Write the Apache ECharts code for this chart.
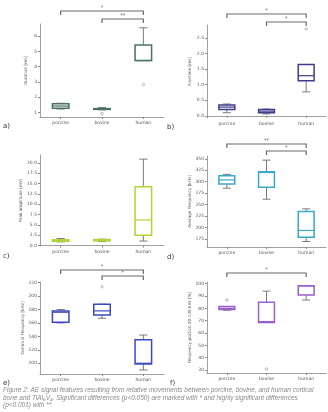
<!DOCTYPE html>
<html><head><meta charset="utf-8">
<script src="https://cdn.jsdelivr.net/npm/echarts@6/dist/echarts.min.js"></script>
<style>html,body{margin:0;padding:0;background:#fff}#c{width:328px;height:412px}</style>
</head><body><div id="c"></div>
<script>
const categories = ['porcine', 'bovine', 'human'];

// box stats: [min, q1, median, q3, max] per category
const durationBox = [[1.22, 1.27, 1.42, 1.57, 1.6], [1.17, 1.2, 1.22, 1.25, 1.32], [4.4, 4.4, 4.4, 5.42, 6.55]];
const durationOut = [[1, 0.93], [2, 2.83]];
const risetimeBox = [[0.1, 0.2, 0.28, 0.35, 0.38], [0.06, 0.1, 0.15, 0.2, 0.22], [0.77, 1.13, 1.29, 1.65, 1.65]];
const risetimeOut = [[2, 2.79]];
const amplitudeBox = [[0.9, 1.05, 1.2, 1.4, 1.7], [1.0, 1.15, 1.3, 1.45, 1.55], [1.1, 2.5, 6.2, 14.2, 20.9]];
const amplitudeOut = [];
const avgFreqBox = [[286, 295, 304, 313, 316], [262, 288, 320, 322, 347], [170, 179, 194, 235, 241]];
const avgFreqOut = [];
const centroidBox = [[160, 161, 176, 178, 180], [167, 172, 178, 188, 188], [90, 99, 100, 135, 142]];
const centroidOut = [[1, 214]];
const portionBox = [[78.5, 79, 80, 81.5, 81.5], [68.5, 68.5, 69.3, 85, 94], [86.8, 90.8, 98.2, 98.4, 98.4]];
const portionOut = [[0, 86.8], [1, 30.8]];

// significance brackets: [fromCategory, toCategory, level]
const durationBr = [[0, 2, 0], [1, 2, 1]];
const durationStars = ['*', '**'];
const risetimeBr = [[0, 2, 0], [1, 2, 1]];
const risetimeStars = ['*', '*'];
const avgFreqBr = [[0, 2, 0], [1, 2, 1]];
const avgFreqStars = ['**', '*'];
const centroidBr = [[0, 2, 0], [1, 2, 1]];
const centroidStars = ['*', '*'];
const portionBr = [[0, 2, 0]];
const portionStars = ['*'];

// y tick labels
const durationTicks = [1, 2, 3, 4, 5, 6];
const risetimeTicks = [0, 0.5, 1.0, 1.5, 2.0, 2.5];
const amplitudeTicks = [0, 2.5, 5, 7.5, 10, 12.5, 15, 17.5, 20];
const avgFreqTicks = [175, 200, 225, 250, 275, 300, 325, 350];
const centroidTicks = [100, 120, 140, 160, 180, 200, 220];
const portionTicks = [30, 40, 50, 60, 70, 80, 90, 100];

const FONT = 'DejaVu Sans';
const panels = [
  {grid: {left: 40, top: 24, width: 124, height: 93}, min: 0.7, max: 6.8, ticks: durationTicks, dec: 0, name: 'Duration [ms]', box: durationBox, out: durationOut, br: durationBr, stars: durationStars, color: '#4a7264', gap: 12, offs: [13, 5]},
  {grid: {left: 207, top: 25, width: 119, height: 93}, min: -0.07, max: 2.92, ticks: risetimeTicks, dec: 1, name: 'Risetime [ms]', box: risetimeBox, out: risetimeOut, br: risetimeBr, stars: risetimeStars, color: '#3d3d8a', gap: 15, offs: [11, 3]},
  {grid: {left: 40, top: 155, width: 124, height: 91}, min: -0.1, max: 21.9, ticks: amplitudeTicks, dec: 1, name: 'Peak amplitude [mV]', box: amplitudeBox, out: amplitudeOut, br: [], stars: [], color: '#afd635', gap: 15, offs: [12, 5]},
  {grid: {left: 207, top: 156, width: 119, height: 91}, min: 158, max: 356, ticks: avgFreqTicks, dec: 0, name: 'Average Frequency [kHz]', box: avgFreqBox, out: avgFreqOut, br: avgFreqBr, stars: avgFreqStars, color: '#38a8cc', gap: 15, offs: [12, 5]},
  {grid: {left: 40, top: 282, width: 124, height: 92}, min: 84, max: 221, ticks: centroidTicks, dec: 0, name: 'Centroid Frequency [kHz]', box: centroidBox, out: centroidOut, br: centroidBr, stars: centroidStars, color: '#3c48c2', gap: 15, offs: [12, 6]},
  {grid: {left: 207, top: 282, width: 119, height: 91}, min: 27.6, max: 101.4, ticks: portionTicks, dec: 0, name: 'Frequency portion 20-130 kHz [%]', box: portionBox, out: portionOut, br: portionBr, stars: portionStars, color: '#9b5fcf', gap: 15, offs: [9, 5]}
];

function boxRenderer(color) {
  return function (params, api) {
    const c = api.value(0);
    const p = [1, 2, 3, 4, 5].map(i => api.coord([c, api.value(i)]));
    const band = api.size([1, 0])[0];
    const bw = band * 0.4, cw = bw * 0.5;
    const cx = p[0][0];
    const ws = {stroke: '#7a7a7a', lineWidth: 1};
    return {type: 'group', children: [
      {type: 'line', shape: {x1: cx, y1: p[0][1], x2: cx, y2: p[1][1]}, style: ws},
      {type: 'line', shape: {x1: cx, y1: p[3][1], x2: cx, y2: p[4][1]}, style: ws},
      {type: 'line', shape: {x1: cx - cw / 2, y1: p[0][1], x2: cx + cw / 2, y2: p[0][1]}, style: ws},
      {type: 'line', shape: {x1: cx - cw / 2, y1: p[4][1], x2: cx + cw / 2, y2: p[4][1]}, style: ws},
      {type: 'rect', shape: {x: cx - bw / 2, y: p[3][1], width: bw, height: Math.max(p[1][1] - p[3][1], 0.5)}, style: {fill: '#fff', stroke: color, lineWidth: 1.5}},
      {type: 'line', shape: {x1: cx - bw / 2, y1: p[2][1], x2: cx + bw / 2, y2: p[2][1]}, style: {stroke: color, lineWidth: 1.2}}
    ]};
  };
}

function bracketRenderer(stars, offs) {
  return function (params, api) {
    const cs = params.coordSys;
    const x1 = api.coord([api.value(0), 0])[0];
    const x2 = api.coord([api.value(1), 0])[0];
    const y = cs.y - offs[api.value(2)];
    const st = {stroke: '#6a6a6a', lineWidth: 1.2, fill: null};
    return {type: 'group', children: [
      {type: 'polyline', shape: {points: [[x1, y + 4], [x1, y], [x2, y], [x2, y + 4]]}, style: st},
      {type: 'text', x: (x1 + x2) / 2, y: y - 0.5, style: {text: stars[params.dataIndex], fill: '#555', fontSize: 5, fontFamily: FONT, align: 'center', verticalAlign: 'bottom'}}
    ]};
  };
}

const grid = [], xAxis = [], yAxis = [], series = [];
panels.forEach((P, i) => {
  grid.push(P.grid);
  xAxis.push({type: 'category', gridIndex: i, data: categories, boundaryGap: true,
    axisLine: {lineStyle: {color: '#888', width: 0.8}},
    axisTick: {show: true, alignWithLabel: true, length: 2, lineStyle: {color: '#888'}},
    axisLabel: {fontSize: 4.5, color: '#555', fontFamily: FONT, margin: 3}});
  yAxis.push({type: 'value', gridIndex: i, min: P.min, max: P.max,
    name: P.name, nameLocation: 'middle', nameGap: P.gap, nameRotate: 90,
    nameTextStyle: {fontSize: 4.2, color: '#555', fontFamily: FONT},
    splitLine: {show: false},
    axisLine: {show: true, lineStyle: {color: '#888', width: 0.8}},
    axisTick: {show: true, length: 2, customValues: P.ticks, lineStyle: {color: '#888'}},
    axisLabel: {fontSize: 4.5, color: '#555', fontFamily: FONT, margin: 3, customValues: P.ticks,
      formatter: v => Number(v).toFixed(P.dec)}});
  series.push({type: 'custom', xAxisIndex: i, yAxisIndex: i,
    data: P.box.map((b, k) => [k].concat(b)),
    encode: {x: 0, y: [1, 2, 3, 4, 5]}, renderItem: boxRenderer(P.color), clip: false, silent: true});
  series.push({type: 'scatter', xAxisIndex: i, yAxisIndex: i, data: P.out, symbol: 'circle', symbolSize: 2.5,
    itemStyle: {color: '#fff', borderColor: '#888', borderWidth: 0.7}, silent: true});
  if (P.br.length) {
    series.push({type: 'custom', xAxisIndex: i, yAxisIndex: i, data: P.br,
      encode: {x: [0, 1], y: 2}, renderItem: bracketRenderer(P.stars, P.offs), clip: false, silent: true});
  }
});

const capStyle = {fill: '#8a8a8a', fontSize: 6.5, fontStyle: 'italic', fontFamily: 'Liberation Sans'};
const labStyle = {fill: '#333', fontSize: 7, fontFamily: FONT};
const graphic = [
  {type: 'text', left: 3, top: 123, style: Object.assign({text: 'a)'}, labStyle)},
  {type: 'text', left: 167, top: 124, style: Object.assign({text: 'b)'}, labStyle)},
  {type: 'text', left: 3, top: 253, style: Object.assign({text: 'c)'}, labStyle)},
  {type: 'text', left: 167, top: 254, style: Object.assign({text: 'd)'}, labStyle)},
  {type: 'text', left: 3, top: 380, style: Object.assign({text: 'e)'}, labStyle)},
  {type: 'text', left: 170, top: 380, style: Object.assign({text: 'f)'}, labStyle)},
  {type: 'text', left: 3, top: 387, style: Object.assign({text: 'Figure 2: AE signal features resulting from relative movements between porcine, bovine, and human cortical'}, capStyle)},
  {type: 'text', left: 3, top: 394.5, style: Object.assign({text: 'bone and TiAl\u2086V\u2084. Significant differences (p<0.050) are marked with * and highly significant differences'}, capStyle)},
  {type: 'text', left: 3, top: 402, style: Object.assign({text: '(p<0.001) with **.'}, capStyle)}
];

const chart = echarts.init(document.getElementById('c'), null, {renderer: 'canvas'});
chart.setOption({animation: false, backgroundColor: '#fff', grid, xAxis, yAxis, series, graphic});
</script></body></html>
